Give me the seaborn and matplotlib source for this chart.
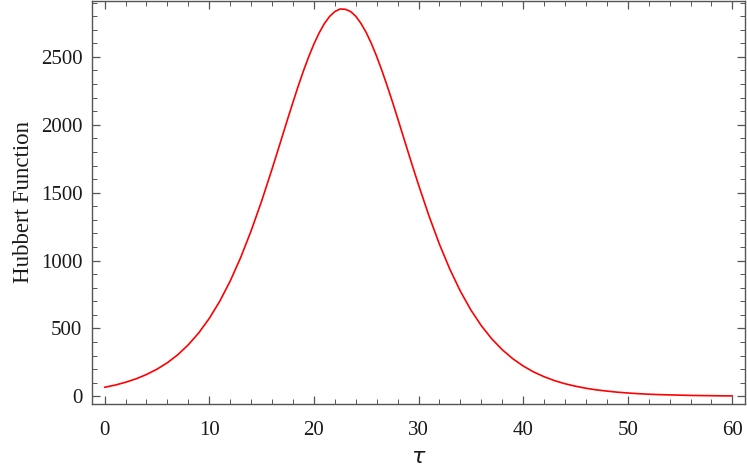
import numpy as np
import pandas as pd
import matplotlib
matplotlib.use("Agg")
import matplotlib.pyplot as plt
import seaborn as sns
from matplotlib.ticker import MultipleLocator

# values (step 1, half steps around the peak)
tau = [0, 1, 2, 3, 4, 5, 6, 7, 8, 9,
       10, 11, 12, 13, 14, 15, 16, 16.5, 17, 17.5,
       18, 18.5, 19, 19.5, 20, 20.5, 21, 21.5, 22, 22.5,
       23, 23.5, 24, 24.5, 25, 25.5, 26, 26.5, 27, 27.5,
       28, 28.5, 29, 29.5, 30, 31, 32, 33, 34, 35,
       36, 37, 38, 39, 40, 41, 42, 43, 44, 45,
       46, 47, 48, 49, 50, 51, 52, 53, 54, 55,
       56, 57, 58, 59, 60]
hubbert = [66, 82, 103, 128, 160, 199, 247, 306, 379, 467,
           573, 699, 848, 1021, 1218, 1436, 1673, 1796, 1920, 2044,
           2165, 2284, 2396, 2500, 2594, 2676, 2745, 2798, 2834, 2853,
           2851, 2835, 2800, 2747, 2680, 2598, 2504, 2400, 2288, 2171,
           2049, 1925, 1801, 1678, 1558, 1329, 1120, 935, 774, 636,
           520, 423, 343, 277, 223, 179, 144, 115, 92, 74,
           59, 47, 38, 30, 24, 19, 15, 12, 10, 8,
           6, 5, 4, 3, 2.5]

x_ticks = [0, 10, 20, 30, 40, 50, 60]
y_ticks = [0, 500, 1000, 1500, 2000, 2500]

df = pd.DataFrame({"tau": tau, "H": hubbert})

sns.set_theme(style="ticks")
plt.rcParams['font.family'] = ['Liberation Serif', 'DejaVu Serif']

fig = plt.figure(figsize=(7.47, 4.72), dpi=100)
ax = fig.add_axes([0.1232, 0.1441, 0.8741, 0.8538])

sns.lineplot(data=df, x="tau", y="H", ax=ax, color="#ff0000", linewidth=1.2)

ax.set_xlim(-1.2, 61.2)
ax.set_ylim(-57, 2912)
ax.set_xticks(x_ticks)
ax.set_yticks(y_ticks)
ax.xaxis.set_minor_locator(MultipleLocator(2))
ax.yaxis.set_minor_locator(MultipleLocator(100))

for s in ax.spines.values():
    s.set_color("#555555")
    s.set_linewidth(1.0)
    s.set_visible(True)

ax.tick_params(which="both", direction="in", top=True, right=True,
               color="#555555", labelsize=15, labelcolor="#1a1a1a")
ax.tick_params(which="major", length=6, width=0.9)
ax.tick_params(which="minor", length=3.5, width=0.7)
ax.tick_params(axis="x", which="major", pad=12)
ax.tick_params(axis="y", which="major", pad=7)

ax.set_xlabel(r"$\tau$", fontsize=16, labelpad=7, color="#1a1a1a")
ax.set_ylabel("Hubbert Function", fontsize=16.5, labelpad=5, color="#1a1a1a")

plt.savefig("out.png", dpi=100)
